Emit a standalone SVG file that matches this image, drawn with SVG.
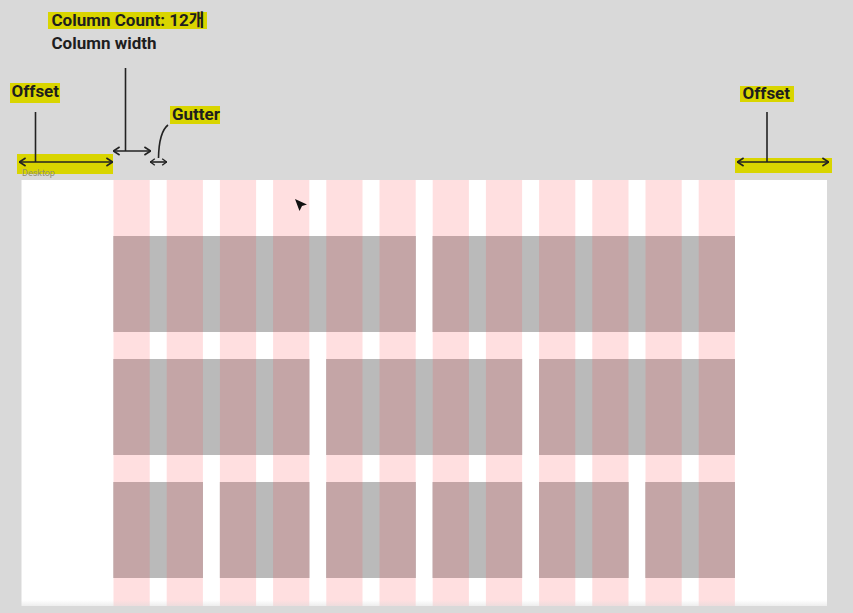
<svg xmlns="http://www.w3.org/2000/svg" width="853" height="613" viewBox="0 0 853 613">
<defs>
<style>
.lbl{font-family:Roboto,"Liberation Sans","Noto Sans CJK KR",sans-serif;font-weight:700;font-size:17px;fill:#1e1e1e}
.hl{fill:#d9d500}
.pk{fill:#ffdfe0}
.gr{fill:#bababa}
.mv{fill:#c4a5a6}
.ln{stroke:#222;stroke-width:1.6;fill:none}
</style>
<marker id="ah" viewBox="0 0 8 10" refX="7.6" refY="5" markerWidth="8" markerHeight="10" markerUnits="userSpaceOnUse" orient="auto-start-reverse">
<path d="M1,1 L7.2,5 L1,9" fill="none" stroke="#222" stroke-width="1.6"/>
</marker>
<marker id="ahs" viewBox="0 0 6 8" refX="5.6" refY="4" markerWidth="6" markerHeight="8" markerUnits="userSpaceOnUse" orient="auto-start-reverse">
<path d="M0.8,0.8 L5.2,4 L0.8,7.2" fill="none" stroke="#222" stroke-width="1.4"/>
</marker>
<linearGradient id="fade" x1="0" y1="0" x2="0" y2="1">
<stop offset="0" stop-color="#d9d9d9" stop-opacity="0"/>
<stop offset="1" stop-color="#d9d9d9"/>
</linearGradient>
</defs>
<rect width="853" height="613" fill="#d9d9d9"/>
<g id="canvas">
<rect x="21.5" y="180" width="805.5" height="426" fill="#fff"/>
</g>
<g id="grid">
<g id="columns">
<rect class="pk" x="113.5" y="180" width="36.2" height="426"/>
<rect class="pk" x="166.7" y="180" width="36.2" height="426"/>
<rect class="pk" x="219.9" y="180" width="36.2" height="426"/>
<rect class="pk" x="273.1" y="180" width="36.2" height="426"/>
<rect class="pk" x="326.3" y="180" width="36.2" height="426"/>
<rect class="pk" x="379.5" y="180" width="36.2" height="426"/>
<rect class="pk" x="432.7" y="180" width="36.2" height="426"/>
<rect class="pk" x="485.9" y="180" width="36.2" height="426"/>
<rect class="pk" x="539.1" y="180" width="36.2" height="426"/>
<rect class="pk" x="592.3" y="180" width="36.2" height="426"/>
<rect class="pk" x="645.5" y="180" width="36.2" height="426"/>
<rect class="pk" x="698.7" y="180" width="36.2" height="426"/>
</g>
<g id="row1">
<rect class="gr" x="113.5" y="236" width="302.2" height="96"/>
<rect class="gr" x="432.7" y="236" width="302.2" height="96"/>
<rect class="mv" x="113.5" y="236" width="36.2" height="96"/>
<rect class="mv" x="166.7" y="236" width="36.2" height="96"/>
<rect class="mv" x="219.9" y="236" width="36.2" height="96"/>
<rect class="mv" x="273.1" y="236" width="36.2" height="96"/>
<rect class="mv" x="326.3" y="236" width="36.2" height="96"/>
<rect class="mv" x="379.5" y="236" width="36.2" height="96"/>
<rect class="mv" x="432.7" y="236" width="36.2" height="96"/>
<rect class="mv" x="485.9" y="236" width="36.2" height="96"/>
<rect class="mv" x="539.1" y="236" width="36.2" height="96"/>
<rect class="mv" x="592.3" y="236" width="36.2" height="96"/>
<rect class="mv" x="645.5" y="236" width="36.2" height="96"/>
<rect class="mv" x="698.7" y="236" width="36.2" height="96"/>
</g>
<g id="row2">
<rect class="gr" x="113.5" y="359" width="195.8" height="96"/>
<rect class="gr" x="326.3" y="359" width="195.8" height="96"/>
<rect class="gr" x="539.1" y="359" width="195.8" height="96"/>
<rect class="mv" x="113.5" y="359" width="36.2" height="96"/>
<rect class="mv" x="166.7" y="359" width="36.2" height="96"/>
<rect class="mv" x="219.9" y="359" width="36.2" height="96"/>
<rect class="mv" x="273.1" y="359" width="36.2" height="96"/>
<rect class="mv" x="326.3" y="359" width="36.2" height="96"/>
<rect class="mv" x="379.5" y="359" width="36.2" height="96"/>
<rect class="mv" x="432.7" y="359" width="36.2" height="96"/>
<rect class="mv" x="485.9" y="359" width="36.2" height="96"/>
<rect class="mv" x="539.1" y="359" width="36.2" height="96"/>
<rect class="mv" x="592.3" y="359" width="36.2" height="96"/>
<rect class="mv" x="645.5" y="359" width="36.2" height="96"/>
<rect class="mv" x="698.7" y="359" width="36.2" height="96"/>
</g>
<g id="row3">
<rect class="gr" x="113.5" y="482" width="89.4" height="96"/>
<rect class="gr" x="219.9" y="482" width="89.4" height="96"/>
<rect class="gr" x="326.3" y="482" width="89.4" height="96"/>
<rect class="gr" x="432.7" y="482" width="89.4" height="96"/>
<rect class="gr" x="539.1" y="482" width="89.4" height="96"/>
<rect class="gr" x="645.5" y="482" width="89.4" height="96"/>
<rect class="mv" x="113.5" y="482" width="36.2" height="96"/>
<rect class="mv" x="166.7" y="482" width="36.2" height="96"/>
<rect class="mv" x="219.9" y="482" width="36.2" height="96"/>
<rect class="mv" x="273.1" y="482" width="36.2" height="96"/>
<rect class="mv" x="326.3" y="482" width="36.2" height="96"/>
<rect class="mv" x="379.5" y="482" width="36.2" height="96"/>
<rect class="mv" x="432.7" y="482" width="36.2" height="96"/>
<rect class="mv" x="485.9" y="482" width="36.2" height="96"/>
<rect class="mv" x="539.1" y="482" width="36.2" height="96"/>
<rect class="mv" x="592.3" y="482" width="36.2" height="96"/>
<rect class="mv" x="645.5" y="482" width="36.2" height="96"/>
<rect class="mv" x="698.7" y="482" width="36.2" height="96"/>
</g>
</g>
<rect x="0" y="600" width="853" height="13" fill="url(#fade)"/>
<g id="cursor">
<path d="M295,199 L307,204.5 L302,206 L299.5,211 Z" fill="#111"/>
</g>
<g id="label-column-count">
<rect class="hl" x="48" y="12" width="159" height="17"/>
<text class="lbl" x="51.5" y="26">Column Count: 12개</text>
</g>
<g id="label-column-width">
<text class="lbl" x="51.5" y="49">Column width</text>
</g>
<g id="label-offset-left">
<rect class="hl" x="10" y="83" width="50" height="20"/>
<text class="lbl" x="11.5" y="97">Offset</text>
<rect class="hl" x="17" y="154" width="96" height="20"/>
<text x="22" y="175.5" font-family="Roboto,'Liberation Sans',sans-serif" font-size="9" fill="#8f8f70">Desktop</text>
</g>
<g id="label-gutter">
<rect class="hl" x="170" y="106" width="50" height="18"/>
<text class="lbl" x="172" y="119.5">Gutter</text>
</g>
<g id="label-offset-right">
<rect class="hl" x="740" y="86" width="54" height="16"/>
<text class="lbl" x="742.5" y="98.5">Offset</text>
<rect class="hl" x="735" y="158" width="97" height="15"/>
</g>
<g id="connectors">
<line class="ln" x1="125.5" y1="68" x2="125.5" y2="151"/>
<line class="ln" x1="113" y1="151" x2="151" y2="151" marker-start="url(#ah)" marker-end="url(#ah)"/>
<line class="ln" x1="35.5" y1="112" x2="35.5" y2="162"/>
<line class="ln" x1="19" y1="162" x2="113" y2="162" marker-start="url(#ah)" marker-end="url(#ah)"/>
<path class="ln" d="M168,125 Q159,132 158.5,158"/>
<line class="ln" x1="150" y1="162" x2="167" y2="162" stroke-width="1.4" marker-start="url(#ahs)" marker-end="url(#ahs)"/>
<line class="ln" x1="767" y1="112" x2="767" y2="162" stroke-width="2"/>
<line class="ln" x1="737" y1="162" x2="829" y2="162" marker-start="url(#ah)" marker-end="url(#ah)"/>
</g>
</svg>
